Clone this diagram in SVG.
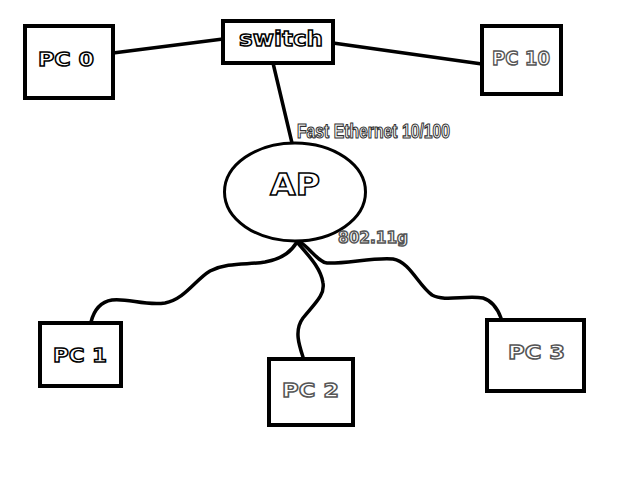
<svg xmlns="http://www.w3.org/2000/svg" width="640" height="480" viewBox="0 0 640 480">
<style>
.box{fill:#fff;stroke:#000;stroke-width:4}
.wire{fill:none;stroke:#000;stroke-width:3.5;stroke-linecap:round;stroke-linejoin:round}
.t{font-family:"DejaVu Sans","Liberation Sans",sans-serif;font-weight:bold;fill:#fff;stroke:#000;stroke-width:1.4;text-anchor:start}
.g{stroke:#555}
.n{font-family:"Liberation Sans Narrow","Liberation Sans",sans-serif;font-weight:bold;fill:#fff;stroke:#333;stroke-width:1.2}
</style>
<rect width="640" height="480" fill="#fff"/>
<g id="connectors">
<line class="wire" x1="113" y1="53" x2="223" y2="39"/>
<line class="wire" x1="333" y1="43" x2="482" y2="64"/>
<line class="wire" x1="273" y1="63" x2="292" y2="143"/>
<path class="wire" d="M91,322 C94,310 100,302 112,300 C128,298 145,306 165,303 C185,299 195,280 210,271 C228,262 248,265 265,262 C285,258 292,250 297,242"/>
<path class="wire" d="M303,357 C299,345 294,330 303,318 C315,303 325,295 323,283 C321,268 308,255 297,242"/>
<path class="wire" d="M300,242 C310,248 318,262 327,263 C345,264 375,257 393,259 C410,262 418,285 432,295 C445,302 465,295 483,298 C493,301 498,310 501,318"/>
</g>
<g id="pc0">
<rect class="box" x="25" y="26" width="88" height="72"/>
<text class="t" x="38" y="66" font-size="20" textLength="56" lengthAdjust="spacingAndGlyphs">PC 0</text>
</g>
<g id="switch">
<rect class="box" x="223" y="21" width="110" height="42"/>
<text class="t" x="239" y="46" font-size="21" textLength="84" lengthAdjust="spacingAndGlyphs">switch</text>
</g>
<g id="pc10">
<rect class="box" x="482" y="26" width="79" height="68"/>
<text class="t g" x="492" y="65" font-size="20" textLength="58" lengthAdjust="spacingAndGlyphs">PC 10</text>
</g>
<g id="ap">
<ellipse cx="295" cy="192" rx="70.5" ry="49" fill="#fff" stroke="#000" stroke-width="3"/>
<text class="t" x="270" y="195" font-size="30" stroke-width="1.5" textLength="50" lengthAdjust="spacingAndGlyphs">AP</text>
</g>
<g id="pc1">
<rect class="box" x="40" y="323" width="81" height="63"/>
<text class="t" x="53" y="362" font-size="20" textLength="54" lengthAdjust="spacingAndGlyphs">PC 1</text>
</g>
<g id="pc2">
<rect class="box" x="269" y="359" width="84" height="66"/>
<text class="t g" x="282" y="397" font-size="20" textLength="57" lengthAdjust="spacingAndGlyphs">PC 2</text>
</g>
<g id="pc3">
<rect class="box" x="487" y="320" width="97" height="71"/>
<text class="t g" x="508" y="359" font-size="20" textLength="57" lengthAdjust="spacingAndGlyphs">PC 3</text>
</g>
<g id="labels">
<text class="n" x="297" y="138" font-size="20" textLength="153" lengthAdjust="spacingAndGlyphs">Fast Ethernet 10/100</text>
<text class="t g" x="338" y="243" font-size="15" stroke-width="1.1" textLength="70" lengthAdjust="spacingAndGlyphs">802.11g</text>
</g>
</svg>
